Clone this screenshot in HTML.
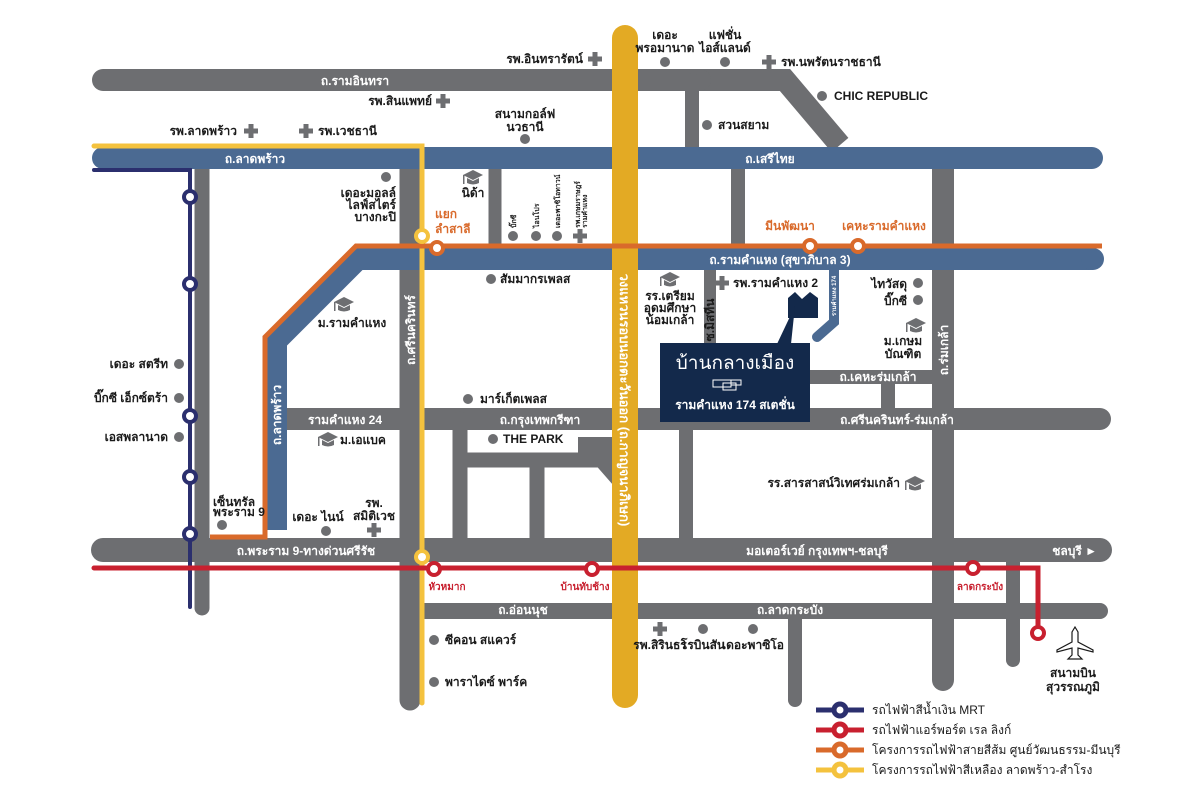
<!DOCTYPE html>
<html><head><meta charset="utf-8"><style>
html,body{margin:0;padding:0;background:#fff;}
svg{display:block;font-family:"Liberation Sans","DejaVu Sans",sans-serif;font-weight:bold;}
.t{font-size:12px;fill:#1a1a1a;}
.w{font-size:12px;fill:#fff;}
.o{font-size:12px;fill:#d96a2b;}
.r{font-size:10px;fill:#c8202f;}
.s{font-size:7px;fill:#1a1a1a;}
</style></head><body>
<svg width="1200" height="800" viewBox="0 0 1200 800" xmlns="http://www.w3.org/2000/svg">
<defs>
<g id="plus"><rect x="-7" y="-2.5" width="14" height="5" fill="#6d6e71"/><rect x="-2.5" y="-7" width="5" height="14" fill="#6d6e71"/></g>
<g id="cap"><path d="M-10,-3 L0,-8 L10,-3 L0,2 Z" fill="#6d6e71"/><path d="M-6,0 L-6,5 Q0,8 6,5 L6,0 L0,3 Z" fill="#6d6e71"/><rect x="-10" y="-3" width="1.5" height="9" fill="#6d6e71"/></g>
</defs>
<g stroke="#6d6e71" fill="none" stroke-linecap="round">
<path d="M103,80 L785,80 L840,145" stroke-width="22" stroke-linecap="butt"/>
<line x1="103" y1="80" x2="700" y2="80" stroke-width="22"/>
<line x1="692" y1="80" x2="692" y2="150" stroke-width="14"/>
<line x1="202" y1="165" x2="202" y2="608" stroke-width="15"/>
<line x1="410" y1="165" x2="410" y2="700" stroke-width="21"/>
<line x1="495" y1="165" x2="495" y2="250" stroke-width="13" stroke-linecap="butt"/>
<line x1="738" y1="165" x2="738" y2="250" stroke-width="14" stroke-linecap="butt"/>
<line x1="943" y1="165" x2="943" y2="680" stroke-width="22"/>
<line x1="710" y1="265" x2="710" y2="360" stroke-width="12" stroke-linecap="butt"/>
<line x1="790" y1="377" x2="943" y2="377" stroke-width="14" stroke-linecap="butt"/>
<line x1="888" y1="377" x2="888" y2="420" stroke-width="14"/>
<line x1="285" y1="419" x2="1100" y2="419" stroke-width="22"/>
<line x1="460" y1="419" x2="460" y2="549" stroke-width="15"/>
<line x1="460" y1="460" x2="625" y2="460" stroke-width="15" stroke-linecap="butt"/>
<line x1="537" y1="460" x2="537" y2="549" stroke-width="15"/>
<line x1="686" y1="419" x2="686" y2="549" stroke-width="14"/>
<line x1="597" y1="456" x2="625" y2="488" stroke-width="14" stroke-linecap="butt"/>
<line x1="1013" y1="549" x2="1013" y2="660" stroke-width="14"/>
<line x1="795" y1="611" x2="795" y2="700" stroke-width="14"/>
<line x1="103" y1="550" x2="1100" y2="550" stroke-width="24"/>
<line x1="422" y1="611" x2="1100" y2="611" stroke-width="16" stroke-linecap="butt"/>
<line x1="1095" y1="611" x2="1100" y2="611" stroke-width="16"/>
</g>
<rect x="578" y="437" width="47" height="30" fill="#6d6e71"/>
<g stroke="#4b6a92" fill="none">
<line x1="103" y1="158" x2="1092" y2="158" stroke-width="22" stroke-linecap="round"/>
<path d="M1092,259 L358,259 L276,341 L276,530" stroke-width="22" stroke-linejoin="miter" stroke-linecap="butt"/>
<line x1="1092" y1="259" x2="1093" y2="259" stroke-width="22" stroke-linecap="round"/>
<path d="M834,270 L834,322 L817,337" stroke-width="10" stroke-linecap="round"/>
</g>
<line x1="625" y1="38" x2="625" y2="695" stroke="#e3aa24" stroke-width="26" stroke-linecap="round"/>
<g fill="none" stroke-width="4">
<path d="M94,170 L190,170 L190,607" stroke="#2b2f6e" stroke-linecap="round"/>
<path d="M94,146 L422,146 L422,703" stroke="#f4c23e" stroke-width="5" stroke-linecap="round"/>
<path d="M1102,246 L356,246 L265,337 L265,537 L210,537" stroke="#d96a2b" stroke-width="5"/>
<path d="M94,568 L1038,568 L1038,630" stroke="#c8202f" stroke-width="5" stroke-linecap="round"/>
</g>
<g fill="#fff" stroke-width="4">
<g stroke="#2b2f6e"><circle cx="190" cy="197" r="6"/><circle cx="190" cy="284" r="6"/><circle cx="190" cy="416" r="6"/><circle cx="190" cy="477" r="6"/><circle cx="190" cy="534" r="6"/></g>
<g stroke="#f4c23e"><circle cx="422" cy="236" r="6"/><circle cx="422" cy="557" r="6"/></g>
<g stroke="#d96a2b"><circle cx="437" cy="248" r="6"/><circle cx="810" cy="246" r="6"/><circle cx="858" cy="246" r="6"/></g>
<g stroke="#c8202f"><circle cx="434" cy="569" r="6"/><circle cx="592" cy="569" r="6"/><circle cx="973" cy="568" r="6"/><circle cx="1038" cy="633" r="6"/></g>
</g>
<text class="w" x="355" y="85" text-anchor="middle" font-size="11">ถ.รามอินทรา</text>
<text class="w" x="255" y="163" text-anchor="middle">ถ.ลาดพร้าว</text>
<text class="w" x="770" y="163" text-anchor="middle">ถ.เสรีไทย</text>
<text class="w" x="780" y="264" text-anchor="middle">ถ.รามคำแหง (สุขาภิบาล 3)</text>
<text class="w" x="345" y="424" text-anchor="middle">รามคำแหง 24</text>
<text class="w" x="540" y="424" text-anchor="middle">ถ.กรุงเทพกรีฑา</text>
<text class="w" x="878" y="381" text-anchor="middle" font-size="10">ถ.เคหะร่มเกล้า</text>
<text class="w" x="897" y="424" text-anchor="middle">ถ.ศรีนครินทร์-ร่มเกล้า</text>
<text class="w" x="306" y="555" text-anchor="middle" font-size="13">ถ.พระราม 9-ทางด่วนศรีรัช</text>
<text class="w" x="817" y="555" text-anchor="middle" font-size="13">มอเตอร์เวย์ กรุงเทพฯ-ชลบุรี</text>
<text class="w" x="1097" y="555" text-anchor="end" font-size="13">ชลบุรี ►</text>
<text class="w" x="523" y="614" text-anchor="middle" font-size="8">ถ.อ่อนนุช</text>
<text class="w" x="790" y="614" text-anchor="middle" font-size="8">ถ.ลาดกระบัง</text>
<text class="w" transform="translate(415,330) rotate(-90)" text-anchor="middle" font-size="13">ถ.ศรีนครินทร์</text>
<text class="w" transform="translate(281,415) rotate(-90)" text-anchor="middle" font-size="13">ถ.ลาดพร้าว</text>
<text class="w" transform="translate(948,350) rotate(-90)" text-anchor="middle" font-size="13">ถ.ร่มเกล้า</text>
<text transform="translate(620,400) rotate(90)" text-anchor="middle" font-size="13" fill="#ffffff">วงแหวนรอบนอกตะวันออก (ถ.กาญจนาภิเษก)</text>
<text class="t" transform="translate(714,320) rotate(-90)" text-anchor="middle" font-size="8">ซ.มิสทีน</text>
<text transform="translate(836,296) rotate(-90)" text-anchor="middle" font-size="6" fill="#fff">รามคำแหง 174</text>
<text class="o" x="435" y="218">แยก</text>
<text class="o" x="435" y="233">ลำสาลี</text>
<text class="o" x="790" y="230" text-anchor="middle">มีนพัฒนา</text>
<text class="o" x="884" y="230" text-anchor="middle">เคหะรามคำแหง</text>
<text class="r" x="447" y="590" text-anchor="middle">หัวหมาก</text>
<text class="r" x="585" y="590" text-anchor="middle">บ้านทับช้าง</text>
<text class="r" x="980" y="590" text-anchor="middle">ลาดกระบัง</text>
<g fill="#6d6e71">
<circle cx="665" cy="62" r="5"/><circle cx="725" cy="62" r="5"/><circle cx="822" cy="96" r="5"/><circle cx="707" cy="125" r="5"/>
<circle cx="525" cy="139" r="5"/><circle cx="386" cy="177" r="5"/><circle cx="513" cy="236" r="5"/><circle cx="536" cy="236" r="5"/><circle cx="557" cy="236" r="5"/>
<circle cx="491" cy="279" r="5"/><circle cx="918" cy="283" r="5"/><circle cx="918" cy="300" r="5"/>
<circle cx="179" cy="364" r="5"/><circle cx="179" cy="398" r="5"/><circle cx="179" cy="437" r="5"/>
<circle cx="468" cy="399" r="5"/><circle cx="493" cy="439" r="5"/><circle cx="222" cy="525" r="5"/><circle cx="326" cy="531" r="5"/>
<circle cx="434" cy="640" r="5"/><circle cx="434" cy="682" r="5"/><circle cx="703" cy="629" r="5"/><circle cx="753" cy="629" r="5"/>
</g>
<use href="#plus" x="595" y="59"/><use href="#plus" x="443" y="101"/><use href="#plus" x="251" y="131"/><use href="#plus" x="306" y="131"/>
<use href="#plus" x="769" y="62"/><use href="#plus" x="580" y="236"/><use href="#plus" x="722" y="283"/><use href="#plus" x="374" y="530"/><use href="#plus" x="660" y="629"/>
<use href="#cap" x="473" y="178"/><use href="#cap" x="670" y="280"/><use href="#cap" x="344" y="305"/><use href="#cap" x="916" y="326"/><use href="#cap" x="328" y="440"/><use href="#cap" x="915" y="484"/>
<text class="t" x="583" y="63" text-anchor="end">รพ.อินทรารัตน์</text>
<text class="t" x="432" y="105" text-anchor="end">รพ.สินแพทย์</text>
<text class="t" x="237" y="135" text-anchor="end">รพ.ลาดพร้าว</text>
<text class="t" x="318" y="135">รพ.เวชธานี</text>
<text class="t" x="525" y="118" text-anchor="middle">สนามกอล์ฟ</text>
<text class="t" x="525" y="131" text-anchor="middle">นวธานี</text>
<text class="t" x="665" y="39" text-anchor="middle" font-size="10">เดอะ</text>
<text class="t" x="665" y="52" text-anchor="middle" font-size="10">พรอมานาด</text>
<text class="t" x="725" y="39" text-anchor="middle" font-size="10">แฟชั่น</text>
<text class="t" x="725" y="52" text-anchor="middle" font-size="10">ไอส์แลนด์</text>
<text class="t" x="781" y="66">รพ.นพรัตนราชธานี</text>
<text class="t" x="834" y="100">CHIC REPUBLIC</text>
<text class="t" x="718" y="129">สวนสยาม</text>
<text class="t" x="396" y="197" text-anchor="end" font-size="10">เดอะมอลล์</text>
<text class="t" x="396" y="209" text-anchor="end" font-size="10">ไลฟ์สไตร์</text>
<text class="t" x="396" y="221" text-anchor="end" font-size="10">บางกะปิ</text>
<text class="t" x="473" y="197" text-anchor="middle">นิด้า</text>
<text class="s" transform="translate(516,228) rotate(-90)">บิ๊กซี</text>
<text class="s" transform="translate(539,228) rotate(-90)">ไอนโปร</text>
<text class="s" transform="translate(560,228) rotate(-90)" font-size="6">เดอะพาซิโอทาวน์</text>
<text class="s" transform="translate(580,228) rotate(-90)" font-size="5">รพ.เกษมราษฎร์</text>
<text class="s" transform="translate(587,228) rotate(-90)" font-size="5">รามคำแหง</text>
<text class="t" x="500" y="283">สัมมากรเพลส</text>
<text class="t" x="670" y="300" text-anchor="middle" font-size="11">รร.เตรียม</text>
<text class="t" x="670" y="312" text-anchor="middle" font-size="11">อุดมศึกษา</text>
<text class="t" x="670" y="324" text-anchor="middle" font-size="11">น้อมเกล้า</text>
<text class="t" x="733" y="287">รพ.รามคำแหง 2</text>
<text class="t" x="907" y="288" text-anchor="end">ไทวัสดุ</text>
<text class="t" x="907" y="305" text-anchor="end">บิ๊กซี</text>
<text class="t" x="903" y="345" text-anchor="middle">ม.เกษม</text>
<text class="t" x="903" y="358" text-anchor="middle">บัณฑิต</text>
<text class="t" x="352" y="327" text-anchor="middle">ม.รามคำแหง</text>
<text class="t" x="168" y="368" text-anchor="end">เดอะ สตรีท</text>
<text class="t" x="168" y="402" text-anchor="end">บิ๊กซี เอ็กซ์ตร้า</text>
<text class="t" x="168" y="441" text-anchor="end">เอสพลานาด</text>
<text class="t" x="480" y="403">มาร์เก็ตเพลส</text>
<text class="t" x="340" y="444">ม.เอแบค</text>
<text class="t" x="503" y="443">THE PARK</text>
<text class="t" x="900" y="487" text-anchor="end">รร.สารสาสน์วิเทศร่มเกล้า</text>
<text class="t" x="213" y="506" font-size="9">เซ็นทรัล</text>
<text class="t" x="213" y="516" font-size="9">พระราม 9</text>
<text class="t" x="318" y="521" text-anchor="middle">เดอะ ไนน์</text>
<text class="t" x="374" y="507" text-anchor="middle">รพ.</text>
<text class="t" x="374" y="520" text-anchor="middle">สมิติเวช</text>
<text class="t" x="660" y="649" text-anchor="middle" font-size="7">รพ.สิรินธร</text>
<text class="t" x="703" y="649" text-anchor="middle" font-size="7">โรบินสัน</text>
<text class="t" x="753" y="649" text-anchor="middle" font-size="7">เดอะพาซิโอ</text>
<text class="t" x="445" y="644">ซีคอน สแควร์</text>
<text class="t" x="445" y="686">พาราไดซ์ พาร์ค</text>
<path d="M1075,627 L1078,632 L1078,642 L1093,650 L1093,652 L1078,648 L1078,655 L1082,659 L1068,659 L1072,655 L1072,648 L1057,652 L1057,650 L1072,642 L1072,632 Z" fill="none" stroke="#1a1a1a" stroke-width="1.2"/>
<text class="t" x="1073" y="677" text-anchor="middle">สนามบิน</text>
<text class="t" x="1073" y="691" text-anchor="middle">สุวรรณภูมิ</text>
<path d="M788,318 L788,298 L795,292 L802,299 L810,292 L818,298 L818,318 Z" fill="#13294b"/>
<polygon points="777,344 791,344 795,306" fill="#13294b"/>
<rect x="660" y="343" width="150" height="79" fill="#13294b"/>
<text x="735" y="369" text-anchor="middle" font-size="19" font-weight="normal" fill="#fff">บ้านกลางเมือง</text>
<g fill="none" stroke="#fff" stroke-width="1"><rect x="713" y="380" width="18" height="7"/><rect x="723" y="383" width="13" height="7"/><rect x="731" y="380" width="10" height="5"/></g>
<text x="735" y="409" text-anchor="middle" font-size="12" fill="#fff">รามคำแหง 174 สเตชั่น</text>
<g stroke-width="5" fill="#fff">
<line x1="816" y1="710" x2="864" y2="710" stroke="#2b2f6e"/><circle cx="840" cy="710" r="6" stroke="#2b2f6e"/>
<line x1="816" y1="730" x2="864" y2="730" stroke="#c8202f"/><circle cx="840" cy="730" r="6" stroke="#c8202f"/>
<line x1="816" y1="750" x2="864" y2="750" stroke="#d96a2b"/><circle cx="840" cy="750" r="6" stroke="#d96a2b"/>
<line x1="816" y1="770" x2="864" y2="770" stroke="#f4c23e"/><circle cx="840" cy="770" r="6" stroke="#f4c23e"/>
</g>
<g font-size="12" font-weight="normal" fill="#1a1a1a">
<text x="872" y="714">รถไฟฟ้าสีน้ำเงิน MRT</text>
<text x="872" y="734">รถไฟฟ้าแอร์พอร์ต เรล ลิงก์</text>
<text x="872" y="754">โครงการรถไฟฟ้าสายสีส้ม ศูนย์วัฒนธรรม-มีนบุรี</text>
<text x="872" y="774">โครงการรถไฟฟ้าสีเหลือง ลาดพร้าว-สำโรง</text>
</g>
</svg>
</body></html>
